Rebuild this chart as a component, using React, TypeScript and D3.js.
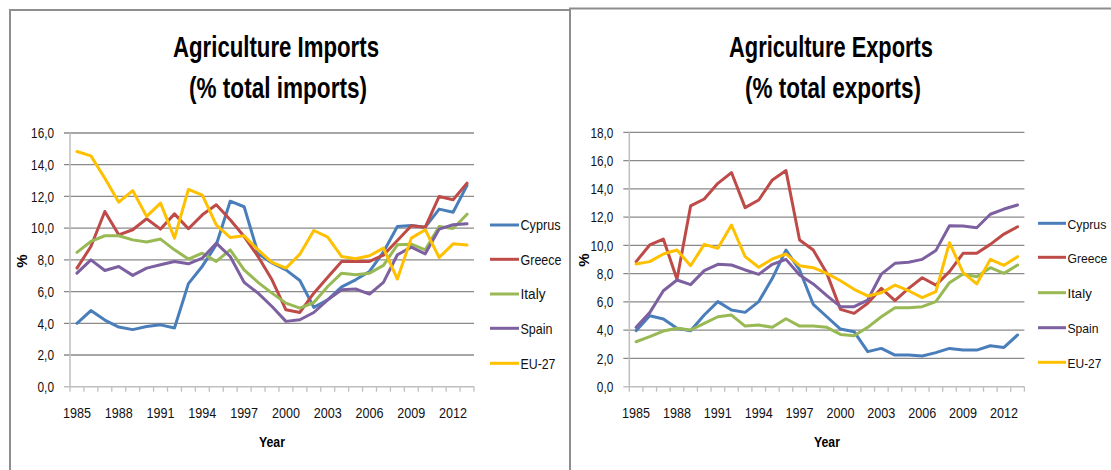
import React from 'react';
import * as d3 from 'd3';

const years = [1985, 1986, 1987, 1988, 1989, 1990, 1991, 1992, 1993, 1994, 1995, 1996, 1997, 1998, 1999,
  2000, 2001, 2002, 2003, 2004, 2005, 2006, 2007, 2008, 2009, 2010, 2011, 2012, 2013];
const xTickYears = [1985, 1988, 1991, 1994, 1997, 2000, 2003, 2006, 2009, 2012];

const seriesNames = ['Cyprus', 'Greece', 'Italy', 'Spain', 'EU-27'];
const seriesColors = ['#4A7EBB', '#BE4B48', '#98B954', '#7D60A0', '#FFC000'];

// Agriculture imports (% of total imports)
const importsCyprus = [4.0, 4.8, 4.2, 3.76, 3.6, 3.8, 3.9, 3.7, 6.5, 7.6, 8.95, 11.7, 11.35, 8.4, 7.8, 7.37, 6.7,
  5.0, 5.48, 6.3, 6.74, 7.27, 8.5, 10.1, 10.17, 10.06, 11.2, 11.0, 12.7];
const importsGreece = [7.48, 8.84, 11.05, 9.58, 9.9, 10.59, 9.94, 10.9, 9.96, 10.84, 11.47, 10.53, 9.47, 8.21, 6.74,
  4.85, 4.68, 5.9, 6.9, 7.9, 7.9, 7.9, 8.3, 9.22, 10.15, 10.06, 12.0, 11.79, 12.84];
const importsItaly = [8.47, 9.16, 9.52, 9.52, 9.26, 9.12, 9.31, 8.63, 8.05, 8.42, 7.9, 8.63, 7.37, 6.58, 5.9,
  5.27, 4.96, 5.31, 6.32, 7.16, 7.06, 7.16, 7.65, 8.95, 8.99, 8.63, 10.1, 9.98, 10.88];
const importsSpain = [7.16, 8.0, 7.33, 7.58, 7.02, 7.48, 7.69, 7.9, 7.75, 8.11, 9.05, 8.21, 6.58, 5.9, 5.06,
  4.12, 4.22, 4.68, 5.48, 6.11, 6.16, 5.84, 6.58, 8.32, 8.8, 8.38, 9.94, 10.21, 10.27];
const importsEU27 = [14.83, 14.56, 13.15, 11.64, 12.37, 10.74, 11.58, 9.37, 12.44, 12.08, 10.21, 9.41, 9.52, 8.63, 7.84,
  7.48, 8.36, 9.85, 9.43, 8.21, 8.07, 8.26, 8.74, 6.79, 9.37, 9.9, 8.15, 9.01, 8.93];

// Agriculture exports (% of total exports)
const exportsCyprus = [3.96, 5.02, 4.79, 4.13, 3.96, 5.07, 6.02, 5.42, 5.26, 6.02, 7.67, 9.67, 8.26, 5.83, 4.95,
  4.08, 3.89, 2.48, 2.71, 2.24, 2.24, 2.17, 2.41, 2.71, 2.59, 2.59, 2.9, 2.78, 3.66];
const exportsGreece = [8.85, 10.03, 10.45, 7.6, 12.79, 13.28, 14.39, 15.15, 12.67, 13.21, 14.63, 15.29, 10.38, 9.67, 8.02,
  5.47, 5.19, 5.9, 6.96, 6.09, 6.96, 7.71, 7.19, 8.14, 9.44, 9.44, 10.07, 10.8, 11.32];
const exportsItaly = [3.18, 3.54, 3.94, 4.13, 4.01, 4.48, 4.95, 5.07, 4.29, 4.36, 4.2, 4.81, 4.29, 4.29, 4.2,
  3.7, 3.61, 4.2, 4.95, 5.59, 5.59, 5.66, 6.02, 7.36, 7.97, 7.78, 8.42, 8.02, 8.61];
const exportsSpain = [4.2, 5.24, 6.79, 7.55, 7.22, 8.21, 8.66, 8.61, 8.26, 7.95, 8.66, 9.01, 7.9, 7.27, 6.44,
  5.66, 5.66, 6.13, 7.97, 8.73, 8.8, 9.01, 9.63, 11.39, 11.37, 11.25, 12.2, 12.57, 12.86];
const exportsEU27 = [8.68, 8.85, 9.39, 9.67, 8.56, 10.07, 9.79, 11.44, 9.2, 8.45, 9.04, 9.39, 8.56, 8.42, 8.02,
  7.5, 6.89, 6.42, 6.65, 7.19, 6.79, 6.3, 6.72, 10.19, 8.07, 7.27, 9.01, 8.59, 9.2];

const importsYTicks = [0, 2, 4, 6, 8, 10, 12, 14, 16];
const exportsYTicks = [0, 2, 4, 6, 8, 10, 12, 14, 16, 18];

const importsSeries = [importsCyprus, importsGreece, importsItaly, importsSpain, importsEU27];
const exportsSeries = [exportsCyprus, exportsGreece, exportsItaly, exportsSpain, exportsEU27];

const importsTitle = ['Agriculture Imports', '(% total imports)'];
const exportsTitle = ['Agriculture Exports', '(% total exports)'];

const FONT = "'Liberation Sans Narrow', 'Liberation Sans', Arial, sans-serif";
const legendTextWidths = [40, 41, 25, 32, 35];
const fmt = (v: number) => d3.format('.1f')(v).replace('.', ',');

type ChartProps = {
  x0: number; x1: number; yTop: number; yBottom: number;
  yTicks: number[]; series: number[][]; title: string[];
  titleX: number; titleWidths: number[];
  legendX0: number; legendX1: number; legendTextX: number; legendY: number[];
  legendFont: number; legendScale: number;
  yearX: number; pctX: number; pctY: number;
};

function Chart(p: ChartProps) {
  const x = d3.scaleBand<number>().domain(years).range([p.x0, p.x1]).padding(0);
  const yMax = p.yTicks[p.yTicks.length - 1];
  const y = d3.scaleLinear().domain([0, yMax]).range([p.yBottom, p.yTop]);
  const bw = x.bandwidth();
  const cx = (yr: number) => (x(yr) as number) + bw / 2;
  const line = d3.line<number>()
    .x((_, i) => cx(years[i]))
    .y((d) => y(d));
  const boundaries = years.map((yr) => x(yr) as number).concat([p.x1]);
  return (
    <g>
      {p.yTicks.filter((t) => t !== 0).map((t) => (
        <line key={'g' + t} x1={p.x0 - 6} x2={p.x1} y1={y(t)} y2={y(t)} stroke="#8A8A8A" strokeWidth={1.3} />
      ))}
      <line x1={p.x0 - 6} x2={p.x1} y1={y(0)} y2={y(0)} stroke="#BFBFBF" strokeWidth={1.5} />
      <line x1={p.x0} x2={p.x0} y1={p.yTop} y2={p.yBottom} stroke="#BFBFBF" strokeWidth={1.5} />
      {boundaries.map((bx, i) => (
        <line key={'t' + i} x1={bx} x2={bx} y1={p.yBottom} y2={p.yBottom + 5} stroke="#BFBFBF" strokeWidth={1.3} />
      ))}
      {p.yTicks.map((t) => {
        const s = fmt(t);
        const w = (s.length - 1) * 6.4 + 3.7;
        return (
          <text key={'yl' + t} x={p.x0 - 16} y={y(t) + 5.3} textAnchor="end" fontFamily={FONT} fontSize={15}
            fill="#111" textLength={w} lengthAdjust="spacingAndGlyphs">{s}</text>
        );
      })}
      {xTickYears.map((yr) => (
        <text key={'xl' + yr} x={cx(yr)} y={p.yBottom + 31} textAnchor="middle" fontFamily={FONT} fontSize={15}
          fill="#111" textLength={28} lengthAdjust="spacingAndGlyphs">{String(yr)}</text>
      ))}
      {p.series.map((s, i) => (
        <path key={'s' + i} d={line(s) || ''} fill="none" stroke={seriesColors[i]} strokeWidth={3}
          strokeLinejoin="round" strokeLinecap="round" />
      ))}
      {seriesNames.map((n, i) => (
        <g key={'lg' + i}>
          <line x1={p.legendX0} x2={p.legendX1} y1={p.legendY[i]} y2={p.legendY[i]} stroke={seriesColors[i]} strokeWidth={3} />
          <text x={p.legendTextX} y={p.legendY[i] + 5.2} fontFamily={FONT} fontSize={p.legendFont} fill="#111"
            textLength={legendTextWidths[i] * p.legendScale} lengthAdjust="spacingAndGlyphs">{n}</text>
        </g>
      ))}
      <text x={p.titleX} y={56.7} textAnchor="middle" fontFamily={FONT} fontSize={30} fontWeight="bold" fill="#000"
        textLength={p.titleWidths[0]} lengthAdjust="spacingAndGlyphs">{p.title[0]}</text>
      <text x={p.titleX + 2} y={97.5} textAnchor="middle" fontFamily={FONT} fontSize={30} fontWeight="bold" fill="#000"
        textLength={p.titleWidths[1]} lengthAdjust="spacingAndGlyphs">{p.title[1]}</text>
      <text x={p.yearX} y={447} textAnchor="middle" fontFamily={FONT} fontSize={15} fontWeight="bold" fill="#000"
        textLength={26} lengthAdjust="spacingAndGlyphs">Year</text>
      <text transform={`translate(${p.pctX + 5},${p.pctY}) rotate(-90)`} textAnchor="middle" fontFamily={FONT}
        fontSize={15} fontWeight="bold" fill="#000">%</text>
    </g>
  );
}

export default function App() {
  return (
    <svg width={1111} height={470} style={{ position: 'absolute', left: 0, top: 0, background: '#fff' }}>
      <rect x={0} y={0} width={1111} height={470} fill="#fff" />
      <rect x={10} y={10} width={560} height={480} fill="none" stroke="#8E8E8E" strokeWidth={2} />
      <rect x={570} y={8.5} width={560} height={480} fill="none" stroke="#8E8E8E" strokeWidth={2} />
      <Chart x0={70} x1={474} yTop={133} yBottom={386.7} yTicks={importsYTicks} series={importsSeries}
        title={importsTitle} titleX={276} titleWidths={[206, 178]}
        legendX0={490} legendX1={519} legendTextX={520.5} legendY={[225, 259.3, 294, 328.3, 363.3]}
        legendFont={15} legendScale={1}
        yearX={272} pctX={22} pctY={261} />
      <Chart x0={629.3} x1={1024.4} yTop={132.3} yBottom={386.7} yTicks={exportsYTicks} series={exportsSeries}
        title={exportsTitle} titleX={831} titleWidths={[204, 176]}
        legendX0={1038} legendX1={1066} legendTextX={1067.5} legendY={[223.3, 257.3, 292.7, 327.7, 362.3]}
        legendFont={13} legendScale={0.97}
        yearX={827} pctX={583.5} pctY={260} />
    </svg>
  );
}
